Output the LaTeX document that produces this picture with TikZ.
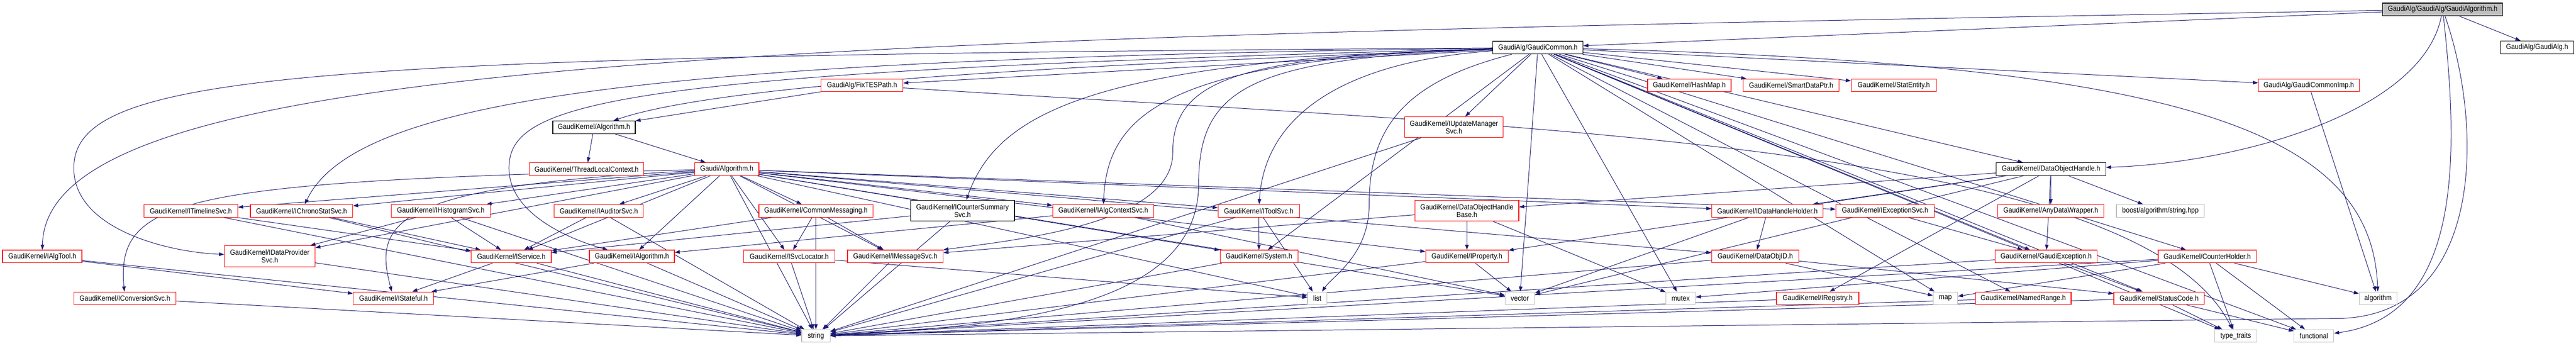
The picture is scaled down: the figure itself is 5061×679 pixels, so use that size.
\documentclass[tikz,border=0pt]{standalone}
\usepackage{fontspec}
\setmainfont{Liberation Sans}[FakeStretch=0.9]
\usetikzlibrary{arrows.meta}
\definecolor{edgeblue}{HTML}{191970}
\definecolor{trunc}{HTML}{FF0000}
\definecolor{sysgray}{HTML}{BFBFBF}
\definecolor{rootfill}{HTML}{BFBFBF}
\pgfdeclarelayer{bg}
\pgfsetlayers{bg,main}
\begin{document}
\begin{tikzpicture}[x=1pt,y=-1pt,
  box/.style={draw, fill=white, line width=1.2pt, inner sep=0pt, minimum height=25pt, align=center, font=\fontsize{14.5pt}{15pt}\selectfont},
  nbox/.style={box, draw=black},
  rbox/.style={box, draw=trunc},
  gbox/.style={box, draw=sysgray},
  tall/.style={minimum height=41pt},
  edge/.style={edgeblue, line width=1pt, -{Triangle[length=10pt,width=7pt]}}
]
\useasboundingbox (0,0) rectangle (5061,679);
% row 0-1
\node[nbox, fill=rootfill, minimum width=236pt] (ga) at (4799,18.5) {GaudiAlg/GaudiAlg/GaudiAlgorithm.h};
\node[nbox, minimum width=143pt] (galg) at (4984.5,93) {GaudiAlg/GaudiAlg.h};
\node[nbox, minimum width=177pt] (gc) at (3021.5,93.5) {GaudiAlg/GaudiCommon.h};
% row 2
\node[rbox, minimum width=161pt] (fix) at (1693.5,167.5) {GaudiAlg/FixTESPath.h};
\node[rbox, minimum width=164pt] (hash) at (3319,167.5) {GaudiKernel/HashMap.h};
\node[rbox, minimum width=188pt] (sdp) at (3519,167.5) {GaudiKernel/SmartDataPtr.h};
\node[rbox, minimum width=167pt] (stat) at (3720.5,167.5) {GaudiKernel/StatEntity.h};
\node[rbox, minimum width=198pt] (gcimp) at (4536,167.5) {GaudiAlg/GaudiCommonImp.h};
% row 3-4
\node[nbox, minimum width=162pt] (algk) at (1167,250) {GaudiKernel/Algorithm.h};
\node[rbox, tall, minimum width=193pt] (iupd) at (2856.5,249.5) {GaudiKernel/IUpdateManager\\Svc.h};
\node[rbox, minimum width=225pt] (tlc) at (1152.5,332) {GaudiKernel/ThreadLocalContext.h};
\node[rbox, minimum width=126pt] (galgo) at (1428,332) {Gaudi/Algorithm.h};
\node[nbox, minimum width=215pt] (doh) at (4029.5,332) {GaudiKernel/DataObjectHandle.h};
% row 5
\node[rbox, minimum width=184pt] (itl) at (375,414) {GaudiKernel/ITimelineSvc.h};
\node[rbox, minimum width=201pt] (ichr) at (592.5,414) {GaudiKernel/IChronoStatSvc.h};
\node[rbox, minimum width=194pt] (ihis) at (866,414) {GaudiKernel/IHistogramSvc.h};
\node[rbox, minimum width=175pt] (iaud) at (1176.5,414) {GaudiKernel/IAuditorSvc.h};
\node[rbox, minimum width=224pt] (cmsg) at (1603,414) {GaudiKernel/CommonMessaging.h};
\node[nbox, tall, minimum width=204pt] (icnt) at (1891,413.5) {GaudiKernel/ICounterSummary\\Svc.h};
\node[rbox, minimum width=199pt] (iactx) at (2167.5,414) {GaudiKernel/IAlgContextSvc.h};
\node[rbox, minimum width=160pt] (itool) at (2473,414) {GaudiKernel/IToolSvc.h};
\node[rbox, tall, minimum width=204pt] (dohb) at (2882,413.5) {GaudiKernel/DataObjectHandle\\Base.h};
\node[rbox, minimum width=219pt] (idhh) at (3472.5,414) {GaudiKernel/IDataHandleHolder.h};
\node[rbox, minimum width=193pt] (iexc) at (3703.5,414) {GaudiKernel/IExceptionSvc.h};
\node[rbox, minimum width=208pt] (anyd) at (4029,414) {GaudiKernel/AnyDataWrapper.h};
\node[gbox, minimum width=173pt] (boost) at (4244.5,414) {boost/algorithm/string.hpp};
% row 6
\node[rbox, minimum width=156pt] (ialgt) at (83,503.5) {GaudiKernel/IAlgTool.h};
\node[rbox, tall, minimum width=178pt] (idp) at (530,503) {GaudiKernel/IDataProvider\\Svc.h};
\node[rbox, minimum width=157pt] (isvc) at (1004.5,503.5) {GaudiKernel/IService.h};
\node[rbox, minimum width=167pt] (ialgo) at (1241.5,503.5) {GaudiKernel/IAlgorithm.h};
\node[rbox, minimum width=179pt] (isvl) at (1550.5,503.5) {GaudiKernel/ISvcLocator.h};
\node[rbox, minimum width=188pt] (imsg) at (1759,503.5) {GaudiKernel/IMessageSvc.h};
\node[rbox, minimum width=153pt] (sys) at (2473.5,503.5) {GaudiKernel/System.h};
\node[rbox, minimum width=162pt] (iprop) at (2882,503.5) {GaudiKernel/IProperty.h};
\node[rbox, minimum width=171pt] (doid) at (3448.5,503.5) {GaudiKernel/DataObjID.h};
\node[rbox, minimum width=200pt] (gexc) at (4020,503.5) {GaudiKernel/GaudiException.h};
\node[rbox, minimum width=193pt] (chold) at (4336.5,503.5) {GaudiKernel/CounterHolder.h};
% row 7
\node[rbox, minimum width=201pt] (iconv) at (245.5,585.5) {GaudiKernel/IConversionSvc.h};
\node[rbox, minimum width=158pt] (istat) at (773,585.5) {GaudiKernel/IStateful.h};
\node[gbox, minimum width=38pt] (list) at (2588,585.5) {list};
\node[gbox, minimum width=58pt] (vector) at (2986,585.5) {vector};
\node[gbox, minimum width=58pt] (mutex) at (3302,585.5) {mutex};
\node[rbox, minimum width=162pt] (ireg) at (3571,585.5) {GaudiKernel/IRegistry.h};
\node[gbox, minimum width=48pt] (map) at (3822,585.5) {map};
\node[rbox, minimum width=188pt] (nrange) at (3975,585.5) {GaudiKernel/NamedRange.h};
\node[rbox, minimum width=178pt] (scode) at (4242,585.5) {GaudiKernel/StatusCode.h};
\node[gbox, minimum width=74pt] (algo) at (4672,585.5) {algorithm};
% row 8
\node[gbox, minimum width=56pt] (string) at (1603,659.5) {string};
\node[gbox, minimum width=83pt] (ttraits) at (4392.5,659.5) {type\_traits};
\node[gbox, minimum width=78pt] (func) at (4546,659.5) {functional};

\begin{pgfonlayer}{bg}
\foreach \a/\b in {ga/galg, ga/gc,
  gc/fix, gc/hash, gc/sdp, gc/stat, gc/gcimp, gc/iupd, gc/doh, gc/sys, gc/gexc, gc/chold, gc/vector, gc/mutex, gc/map, gc/nrange, gc/scode, gc/func, gc/ttraits,
  fix/algk, algk/tlc, algk/galgo,
  galgo/itl, galgo/ichr, galgo/ihis, galgo/iaud, galgo/cmsg, galgo/iactx, galgo/itool, galgo/idp, galgo/isvc, galgo/ialgo, galgo/isvl, galgo/imsg, galgo/sys, galgo/iprop, galgo/doid, galgo/idhh, galgo/iexc, galgo/string, galgo/vector, galgo/list,
  itl/isvc, itl/string, ichr/isvc, ichr/string, ihis/isvc, ihis/idp, ihis/string, iaud/isvc, iaud/string, cmsg/isvc, cmsg/isvl, cmsg/imsg, cmsg/string, icnt/isvc, icnt/string, iactx/ialgo, iactx/vector, itool/sys, itool/list, itool/string, dohb/iprop, dohb/mutex, dohb/imsg, idhh/doid, idhh/vector, iexc/gexc,
  doh/dohb, doh/idhh, doh/anyd, doh/boost, doh/ireg, doh/iprop, doh/vector, doh/gexc,
  ialgt/istat, ialgt/string, iconv/string, idp/string, isvc/istat, isvc/string, ialgo/istat, ialgo/string, isvl/list, isvl/string, imsg/string, sys/string, iprop/vector, iprop/string, doid/map, doid/string, doid/scode, gexc/scode, gexc/string, chold/map, chold/algo, chold/ttraits, chold/func, chold/mutex, chold/string, scode/ttraits, scode/func, scode/string, ireg/string, nrange/string, gcimp/algo, iupd/string}
  \draw[edge] (\a) -- (\b);
% long routed connectors
\draw[edge] (ga) .. controls (1500,75) and (90,110) .. (ialgt);
\draw[edge] (gc) .. controls (600,110) and (145,140) .. (145,330) .. controls (145,450) and (330,495) .. (idp);
\draw[edge] (galgo) .. controls (350,355) and (228,390) .. (iconv);
\draw[edge] (galgo) .. controls (760,365) and (735,440) .. (istat);
\draw[edge] (ga) .. controls (4760,220) and (4400,320) .. (doh);
\draw[edge] (ga) .. controls (4880,250) and (4880,615) .. (4600,625) -- (string);
\draw[edge] (ga) .. controls (4830,300) and (4840,620) .. (func);
\draw[edge] (gc) .. controls (1300,115) and (700,190) .. (ichr);
\draw[edge] (gc) .. controls (4300,125) and (4660,260) .. (algo);
\draw[edge] (fix) .. controls (3000,250) and (4200,280) .. (ttraits);
\draw[edge] (gc) .. controls (2000,130) and (1400,170) .. (algk);
\draw[edge] (gc) .. controls (1200,140) and (1000,200) .. (1000,330) .. controls (1000,420) and (1120,470) .. (ialgo);
\draw[edge] (gc) .. controls (2150,120) and (1960,220) .. (icnt);
\draw[edge] (gc) .. controls (2300,115) and (2175,220) .. (iactx);
\draw[edge] (gc) .. controls (2650,120) and (2485,220) .. (itool);
\draw[edge] (gc) .. controls (2420,110) and (2304,160) .. (2304,300) .. controls (2304,440) and (2000,470) .. (imsg);
\draw[edge] (gc) .. controls (2460,115) and (2355,170) .. (2355,360) .. controls (2355,600) and (2000,640) .. (string);
\draw[edge] (gc) .. controls (2760,160) and (2690,250) .. (2690,400) .. controls (2690,500) and (2620,540) .. (list);
\end{pgfonlayer}
\end{tikzpicture}
\end{document}
